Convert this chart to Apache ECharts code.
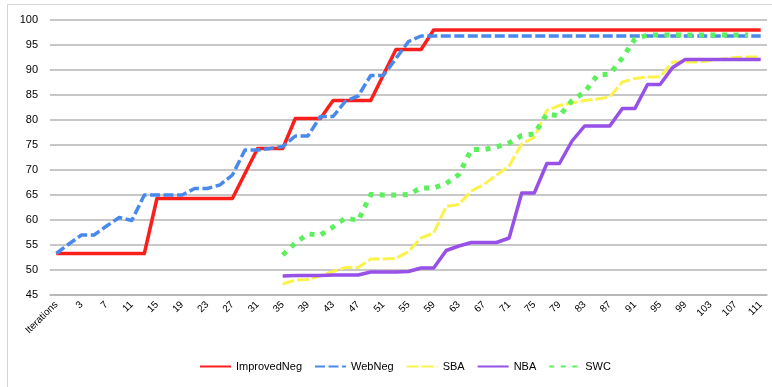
<!DOCTYPE html>
<html>
<head>
<meta charset="utf-8">
<script src="https://cdn.jsdelivr.net/npm/echarts@6/dist/echarts.min.js"></script>
<style>
  html, body { margin: 0; padding: 0; background: #ffffff; }
  #chart { width: 772px; height: 387px; }
</style>
</head>
<body>
<div id="chart"></div>
<script>
// Iteration axis: first slot is the header cell, then every odd iteration
const categories = [
  'Iterations', '1', '3', '5', '7', '9', '11', '13', '15', '17', '19', '21', '23', '25', '27', '29',
  '31', '33', '35', '37', '39', '41', '43', '45', '47', '49', '51', '53', '55', '57', '59',
  '61', '63', '65', '67', '69', '71', '73', '75', '77', '79', '81', '83', '85', '87', '89',
  '91', '93', '95', '97', '99', '101', '103', '105', '107', '109', '111'
];

const improvedNeg = [
  53.3, 53.3, 53.3, 53.3, 53.3, 53.3, 53.3, 53.3,
  64.3, 64.3, 64.3, 64.3, 64.3, 64.3, 64.3,
  69.3,
  74.3, 74.3, 74.3,
  80.3, 80.3, 80.3,
  83.9, 83.9, 83.9, 83.9,
  89.0,
  94.1, 94.1, 94.1,
  98, 98, 98, 98, 98, 98, 98, 98, 98, 98, 98, 98, 98, 98, 98, 98, 98, 98, 98, 98,
  98, 98, 98, 98, 98, 98, 98
];

const webNeg = [
  53.3, 55.2, 57, 57, 58.8, 60.5, 59.9, 65, 65, 65, 65, 66.3, 66.3, 67, 69,
  74, 74, 74.3, 74.7, 76.8, 76.8, 80.7, 80.7, 83.8, 84.8, 88.9, 88.9, 92.3, 95.7, 96.8,
  96.8, 96.8, 96.8, 96.8, 96.8, 96.8, 96.8, 96.8, 96.8, 96.8, 96.8, 96.8, 96.8, 96.8,
  96.8, 96.8, 96.8, 96.8, 96.8, 96.8, 96.8, 96.8, 96.8, 96.8, 96.8, 96.8, 96.8
];

// SBA, NBA and SWC start at iteration 35 (18 empty slots before)
const sba = [
  null, null, null, null, null, null, null, null, null, null, null, null, null, null, null, null, null, null,
  47.2, 48.0, 48.1, 48.9, 49.7, 50.5, 50.5, 52.2, 52.2, 52.3, 53.7, 56.4, 57.4,
  62.7, 63.1, 65.8, 67.1, 69.0, 70.8, 75.2, 76.5, 81.9, 82.9, 83.4, 83.9, 84.2, 84.6,
  87.6, 88.3, 88.6, 88.6, 91.6, 91.6, 91.6, 91.9, 92.2, 92.5, 92.6, 92.6
];

const nba = [
  null, null, null, null, null, null, null, null, null, null, null, null, null, null, null, null, null, null,
  48.8, 48.9, 48.9, 48.9, 49.0, 49.0, 49.0, 49.6, 49.6, 49.6, 49.7, 50.4, 50.4,
  53.9, 54.8, 55.5, 55.5, 55.5, 56.4, 65.4, 65.4, 71.3, 71.3, 75.8, 78.8, 78.8, 78.8,
  82.3, 82.3, 87.1, 87.1, 90.5, 92.1, 92.1, 92.1, 92.1, 92.1, 92.1, 92.1
];

const swc = [
  null, null, null, null, null, null, null, null, null, null, null, null, null, null, null, null, null, null,
  53.0, 55.4, 57.2, 57.0, 58.6, 60.4, 59.9, 65.1, 65.0, 65.0, 65.1, 66.4, 66.4,
  67.3, 69.1, 74.1, 74.1, 74.6, 75.4, 76.9, 77.2, 81.2, 80.8, 83.9, 85.6, 88.9, 89.2,
  92.4, 96.2, 97.0, 97.0, 97.0, 97.0, 97.0, 97.0, 97.0, 97.0, 97.0
];

const yTicks = { min: 45, max: 100, step: 5 };

const FONT = "'Liberation Sans', Arial, sans-serif";

function lineSeries(name, values, color, width, dash) {
  return {
    name: name,
    type: 'line',
    data: values,
    symbol: 'none',
    showSymbol: false,
    connectNulls: false,
    animation: false,
    lineStyle: {
      color: color,
      width: width,
      type: dash,
      cap: 'butt',
      join: 'round'
    },
    itemStyle: { color: color },
    emphasis: { disabled: true }
  };
}

const chart = echarts.init(document.getElementById('chart'), null, { renderer: 'canvas' });

chart.setOption({
  backgroundColor: '#ffffff',
  animation: false,
  grid: { left: 50, right: 5, top: 20, bottom: 92, containLabel: false },
  graphic: [
    // chart frame
    {
      type: 'polyline',
      shape: { points: [[7.5, 387], [7.5, 4.5], [772, 4.5]] },
      style: { stroke: '#d4d4d4', lineWidth: 1, fill: null },
      silent: true
    }
  ],
  legend: {
    bottom: 10,
    left: 194,
    itemWidth: 31,
    itemHeight: 12,
    itemGap: 12,
    // plain line keys, no point marker
    itemStyle: { opacity: 0 },
    textStyle: { fontFamily: FONT, fontSize: 11, color: '#000000' },
    data: ['ImprovedNeg', 'WebNeg', 'SBA', 'NBA', 'SWC']
  },
  xAxis: {
    type: 'category',
    data: categories,
    boundaryGap: true,
    axisLine: { show: true, lineStyle: { color: '#b5b5b5', width: 1.5 } },
    axisTick: { show: false },
    axisLabel: {
      interval: 1,
      rotate: 45,
      fontFamily: FONT,
      fontSize: 10,
      color: '#000000',
      margin: 8
    },
    splitLine: { show: false }
  },
  yAxis: {
    type: 'value',
    min: yTicks.min,
    max: yTicks.max,
    interval: yTicks.step,
    axisLine: { show: false },
    axisTick: { show: false },
    axisLabel: {
      fontFamily: FONT,
      fontSize: 11,
      color: '#000000',
      margin: 12
    },
    splitLine: { show: true, lineStyle: { color: '#b5b5b5', width: 1.5 } }
  },
  series: [
    lineSeries('ImprovedNeg', improvedNeg, '#fb1f1c', 3.5, 'solid'),
    lineSeries('WebNeg', webNeg, '#4a89ec', 3.5, [10, 3.5]),
    lineSeries('SBA', sba, '#fbf34a', 3, [12, 3]),
    lineSeries('NBA', nba, '#9750e8', 3.5, 'solid'),
    lineSeries('SWC', swc, '#5cf05c', 5, [5, 6.5])
  ]
});
</script>
</body>
</html>
